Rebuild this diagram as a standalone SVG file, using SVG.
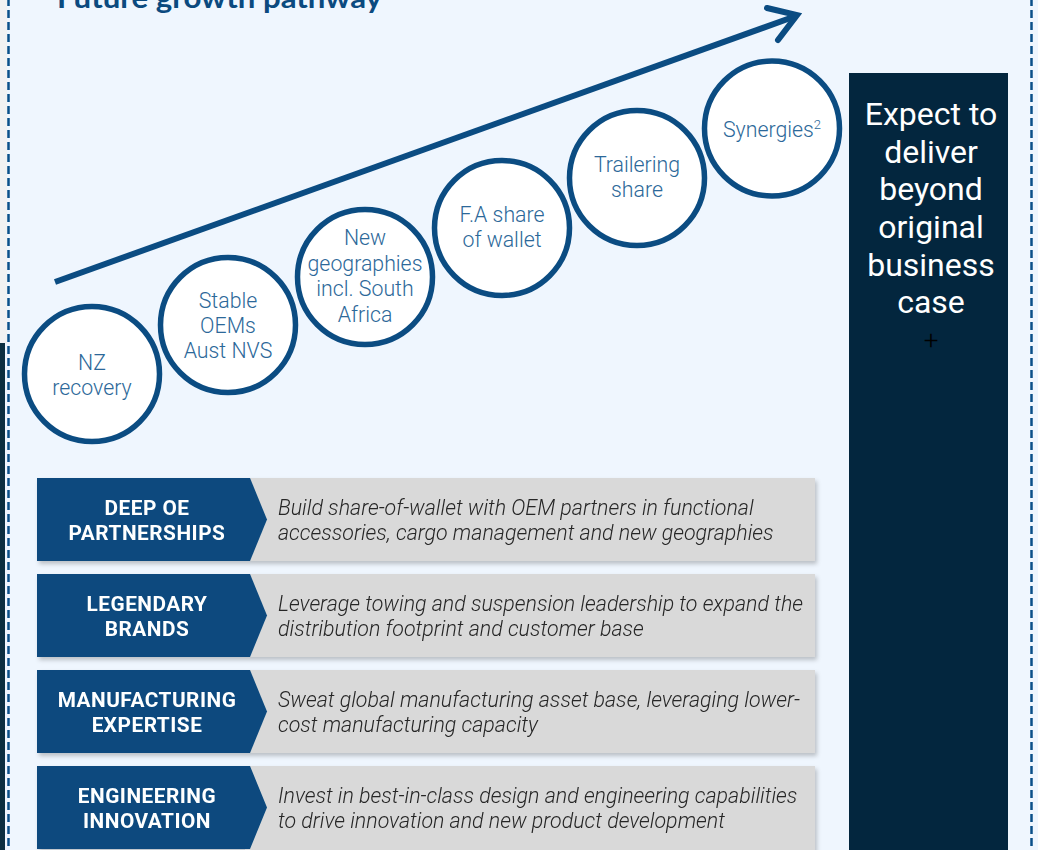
<svg xmlns="http://www.w3.org/2000/svg" width="1038" height="850" viewBox="0 0 1038 850">
  <defs>
    <style>
      .circ { fill: #ffffff; stroke: #0B4C82; stroke-width: 5.5; }
      .ctext { font-family: Roboto, "Liberation Sans", sans-serif; font-weight: 300; font-size: 21.3px; fill: #2C6899; text-anchor: middle; }
      .lbl { font-family: Roboto, "Liberation Sans", sans-serif; font-weight: 700; font-size: 20.8px; letter-spacing: 0.5px; fill: #ffffff; text-anchor: middle; }
      .desc { font-family: Roboto, "Liberation Sans", sans-serif; font-weight: 300; font-style: italic; font-size: 21.4px; fill: #262626; }
      .chev { fill: #0A4A7E; }
      .gbox { fill: #D9D9D9; }
      .big { font-family: Roboto, "Liberation Sans", sans-serif; font-weight: 400; font-size: 32px; fill: #ffffff; text-anchor: middle; }
      .dash { stroke: #0B5089; stroke-width: 2.5; stroke-dasharray: 8 4; fill: none; }
    </style>
    <filter id="shadow" x="-5%" y="-20%" width="112%" height="150%">
      <feDropShadow dx="2" dy="3" stdDeviation="2" flood-color="#000000" flood-opacity="0.22"/>
    </filter>
  </defs>

  <!-- background -->
  <rect x="0" y="0" width="1038" height="850" fill="#EFF6FE"/>
  <rect x="0" y="0" width="7" height="343" fill="#F2F2F2"/>
  <rect x="0" y="343" width="5" height="507" fill="#0C2F40"/>
  <line class="dash" x1="8.5" y1="-2" x2="8.5" y2="850"/>
  <line class="dash" x1="1031.5" y1="-2" x2="1031.5" y2="850"/>

  <!-- title -->
  <text x="57" y="8" font-family="Lato, Roboto, 'Liberation Sans', sans-serif" font-weight="700" font-size="28" fill="#0B4A7F" textLength="325" lengthAdjust="spacingAndGlyphs">Future growth pathway</text>

  <!-- connectors -->
  <g id="connectors">
    <line x1="55" y1="282" x2="796" y2="16" stroke="#0B4C82" stroke-width="6"/>
    <polyline points="767,8 797,15 778,40" fill="none" stroke="#0B4C82" stroke-width="6" stroke-linecap="round" stroke-linejoin="miter"/>
  </g>

  <!-- circles -->
  <g id="node-nz">
    <circle class="circ" cx="92" cy="374" r="67.5"/>
    <text class="ctext" x="92" y="370">NZ</text>
    <text class="ctext" x="92" y="395">recovery</text>
  </g>
  <g id="node-oems">
    <circle class="circ" cx="228" cy="325" r="67.5"/>
    <text class="ctext" x="228" y="308">Stable</text>
    <text class="ctext" x="228" y="333">OEMs</text>
    <text class="ctext" x="228" y="358">Aust NVS</text>
  </g>
  <g id="node-geo">
    <circle class="circ" cx="365" cy="277" r="67.5"/>
    <text class="ctext" x="365" y="245">New</text>
    <text class="ctext" x="365" y="271">geographies</text>
    <text class="ctext" x="365" y="296">incl. South</text>
    <text class="ctext" x="365" y="322">Africa</text>
  </g>
  <g id="node-fa">
    <circle class="circ" cx="502" cy="228" r="67.5"/>
    <text class="ctext" x="502" y="222">F.A share</text>
    <text class="ctext" x="502" y="247">of wallet</text>
  </g>
  <g id="node-trailering">
    <circle class="circ" cx="637" cy="178" r="67.5"/>
    <text class="ctext" x="637" y="172">Trailering</text>
    <text class="ctext" x="637" y="197">share</text>
  </g>
  <g id="node-synergies">
    <circle class="circ" cx="772" cy="128.5" r="67.5"/>
    <text class="ctext" x="772" y="137" font-size="20">Synergies<tspan font-size="13" dy="-8">2</tspan></text>
  </g>

  <!-- right dark box -->
  <g id="node-expect">
    <rect x="849" y="73" width="159" height="777" fill="#03263E"/>
    <text class="big" x="931" y="125">Expect to</text>
    <text class="big" x="931" y="163">deliver</text>
    <text class="big" x="931" y="200">beyond</text>
    <text class="big" x="931" y="238">original</text>
    <text class="big" x="931" y="276">business</text>
    <text class="big" x="931" y="313">case</text>
    <text x="931" y="349" font-family="Roboto, 'Liberation Sans', sans-serif" font-weight="300" font-size="26" fill="#000000" text-anchor="middle">+</text>
  </g>

  <!-- rows -->
  <g id="row-deep-oe" filter="url(#shadow)">
    <rect class="gbox" x="245" y="478" width="570" height="83"/>
    <polygon class="chev" points="37,478 250,478 267,519.5 250,561 37,561"/>
    <text class="lbl" x="147" y="515">DEEP OE</text>
    <text class="lbl" x="147" y="540">PARTNERSHIPS</text>
    <text class="desc" x="278" y="515">Build share-of-wallet with OEM partners in functional</text>
    <text class="desc" x="278" y="540">accessories, cargo management and new geographies</text>
  </g>
  <g id="row-brands" filter="url(#shadow)">
    <rect class="gbox" x="245" y="574" width="570" height="83"/>
    <polygon class="chev" points="37,574 250,574 267,615.5 250,657 37,657"/>
    <text class="lbl" x="147" y="611">LEGENDARY</text>
    <text class="lbl" x="147" y="636">BRANDS</text>
    <text class="desc" x="278" y="611">Leverage towing and suspension leadership to expand the</text>
    <text class="desc" x="278" y="636">distribution footprint and customer base</text>
  </g>
  <g id="row-manufacturing" filter="url(#shadow)">
    <rect class="gbox" x="245" y="670" width="570" height="83"/>
    <polygon class="chev" points="37,670 250,670 267,711.5 250,753 37,753"/>
    <text class="lbl" x="147" y="707">MANUFACTURING</text>
    <text class="lbl" x="147" y="732">EXPERTISE</text>
    <text class="desc" x="278" y="707">Sweat global manufacturing asset base, leveraging lower-</text>
    <text class="desc" x="278" y="732">cost manufacturing capacity</text>
  </g>
  <g id="row-engineering" filter="url(#shadow)">
    <rect class="gbox" x="245" y="766" width="570" height="90"/>
    <polygon class="chev" points="37,766 250,766 267,807.5 250,849 37,849 37,856"/>
    <text class="lbl" x="147" y="803">ENGINEERING</text>
    <text class="lbl" x="147" y="828">INNOVATION</text>
    <text class="desc" x="278" y="803">Invest in best-in-class design and engineering capabilities</text>
    <text class="desc" x="278" y="828">to drive innovation and new product development</text>
  </g>
</svg>
